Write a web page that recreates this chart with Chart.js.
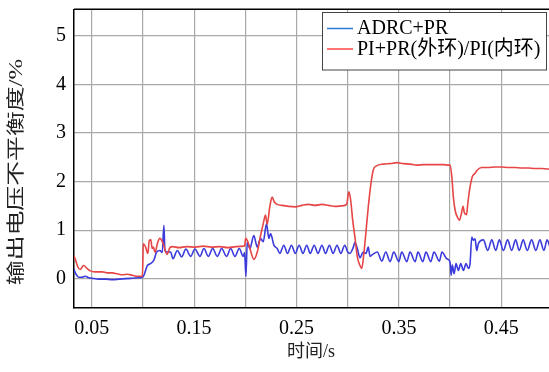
<!DOCTYPE html>
<html>
<head>
<meta charset="utf-8">
<script src="https://cdn.jsdelivr.net/npm/chart.js@4.4.1/dist/chart.umd.min.js"></script>
<style>
  html, body { margin: 0; padding: 0; background: #fff; }
  #wrap { width: 549px; height: 372px; }
</style>
</head>
<body>
<div id="wrap"><canvas id="c" width="549" height="372"></canvas></div>
<script>
// 数据：时间 (s) 与不平衡度 (%)
const timeAdrc = [
  0.0322, 0.0345, 0.0372, 0.0404, 0.0437, 0.0471, 0.0503, 0.0569, 0.0635, 0.0701, 0.0767, 0.0832, 0.0898, 0.0964, 0.0997,
  0.1010, 0.1043, 0.1075, 0.1107, 0.1134, 0.1166, 0.1189, 0.1205, 0.1215, 0.1238, 0.1271, 0.1293, 0.1336, 0.1378, 0.1420, 0.1466, 0.1508, 0.1557, 0.1596, 0.1639, 0.1681, 0.1727, 0.1769, 0.1817, 0.1857, 0.1899, 0.1941, 0.1980, 0.1993,
  0.2006, 0.2019, 0.2045, 0.2083, 0.2117, 0.2149, 0.2175, 0.2207, 0.2230, 0.2247, 0.2279, 0.2312, 0.2337, 0.2376, 0.2412, 0.2451, 0.2488, 0.2526, 0.2563, 0.2600, 0.2634, 0.2673, 0.2710, 0.2748, 0.2784, 0.2821, 0.2857, 0.2896, 0.2933, 0.2971, 0.3000,
  0.3022, 0.3055, 0.3071, 0.3094, 0.3120, 0.3152, 0.3179, 0.3201, 0.3218, 0.3244, 0.3289, 0.3333, 0.3372, 0.3414, 0.3450, 0.3499, 0.3528, 0.3577, 0.3609, 0.3658, 0.3687, 0.3733, 0.3765, 0.3811, 0.3843, 0.3895, 0.3921, 0.3967, 0.4000,
  0.4010, 0.4022, 0.4039, 0.4058, 0.4081, 0.4104, 0.4130, 0.4156, 0.4179, 0.4195, 0.4212, 0.4227, 0.4244, 0.4260, 0.4276, 0.4325, 0.4368, 0.4407, 0.4446, 0.4481, 0.4520, 0.4562, 0.4601, 0.4640, 0.4675, 0.4714, 0.4753, 0.4796, 0.4838, 0.4877, 0.4916, 0.4948, 0.4975
];
const valAdrc = [
  0.21, 0.10, 0.03, 0.03, 0.05, 0.02, 0.01, -0.01, -0.01, -0.02, -0.01, 0.00, 0.01, 0.02, 0.03,
  0.07, 0.27, 0.31, 0.38, 0.55, 0.58, 0.54, 1.10, 0.58, 0.55, 0.55, 0.41, 0.58, 0.45, 0.61, 0.46, 0.61, 0.46, 0.62, 0.46, 0.62, 0.46, 0.62, 0.46, 0.62, 0.46, 0.62, 0.46, 0.54,
  0.05, 0.76, 0.62, 0.89, 0.65, 0.83, 0.76, 1.13, 0.83, 0.93, 0.69, 0.62, 0.52, 0.69, 0.52, 0.69, 0.52, 0.69, 0.52, 0.69, 0.52, 0.69, 0.52, 0.69, 0.52, 0.69, 0.52, 0.69, 0.52, 0.69, 0.55,
  0.52, 0.65, 0.75, 0.62, 0.43, 0.55, 0.52, 0.65, 0.46, 0.50, 0.55, 0.36, 0.55, 0.35, 0.55, 0.35, 0.55, 0.35, 0.55, 0.35, 0.55, 0.35, 0.55, 0.35, 0.55, 0.36, 0.55, 0.41, 0.34,
  0.07, 0.28, 0.10, 0.31, 0.17, 0.31, 0.17, 0.31, 0.21, 0.31, 0.86, 0.79, 0.82, 0.58, 0.72, 0.80, 0.58, 0.80, 0.58, 0.80, 0.58, 0.80, 0.58, 0.80, 0.58, 0.80, 0.58, 0.80, 0.58, 0.80, 0.58, 0.80, 0.65
];

const timePi = [
  0.0322, 0.0338, 0.0365, 0.0387, 0.0421, 0.0454, 0.0486, 0.0536, 0.0602, 0.0651, 0.0701, 0.0750, 0.0799, 0.0849, 0.0898, 0.0948, 0.0995,
  0.1004, 0.1026, 0.1049, 0.1062, 0.1078, 0.1090, 0.1102, 0.1119, 0.1141, 0.1165, 0.1199, 0.1235, 0.1264, 0.1290, 0.1350, 0.1430, 0.1510, 0.1590, 0.1670, 0.1750, 0.1830, 0.1910, 0.1986, 0.1995,
  0.2003, 0.2025, 0.2051, 0.2083, 0.2117, 0.2149, 0.2175, 0.2197, 0.2214, 0.2239, 0.2262, 0.2284, 0.2311, 0.2359, 0.2423, 0.2488, 0.2553, 0.2617, 0.2683, 0.2748, 0.2812, 0.2877, 0.2942, 0.2990,
  0.3006, 0.3013, 0.3029, 0.3049, 0.3071, 0.3094, 0.3120, 0.3137, 0.3152, 0.3169, 0.3201, 0.3227, 0.3250, 0.3277, 0.3349, 0.3415, 0.3480, 0.3545, 0.3609, 0.3675, 0.3740, 0.3805, 0.3870, 0.3935, 0.3984,
  0.4000, 0.4017, 0.4032, 0.4049, 0.4071, 0.4091, 0.4107, 0.4127, 0.4139, 0.4161, 0.4173, 0.4195, 0.4217, 0.4244, 0.4266, 0.4309, 0.4373, 0.4439, 0.4504, 0.4568, 0.4634, 0.4699, 0.4763, 0.4828, 0.4894, 0.4959, 0.4975
];
const valPi = [
  0.48, 0.41, 0.24, 0.19, 0.27, 0.21, 0.16, 0.14, 0.14, 0.12, 0.12, 0.10, 0.08, 0.09, 0.07, 0.05, 0.05,
  0.72, 0.65, 0.52, 0.79, 0.80, 0.62, 0.65, 0.54, 0.72, 0.83, 0.72, 0.50, 0.64, 0.66, 0.64, 0.66, 0.65, 0.67, 0.65, 0.66, 0.64, 0.66, 0.67, 0.69,
  0.83, 0.76, 0.58, 0.40, 0.55, 0.89, 1.13, 1.31, 1.12, 1.48, 1.68, 1.58, 1.53, 1.51, 1.49, 1.48, 1.51, 1.53, 1.51, 1.53, 1.51, 1.49, 1.50, 1.53,
  1.75, 1.79, 1.62, 1.20, 0.85, 0.45, 0.27, 0.21, 0.40, 0.75, 1.48, 1.96, 2.24, 2.32, 2.36, 2.37, 2.39, 2.37, 2.36, 2.34, 2.35, 2.35, 2.35, 2.35, 2.34,
  2.34, 2.10, 1.68, 1.41, 1.27, 1.20, 1.31, 1.49, 1.36, 1.32, 1.55, 1.89, 2.10, 2.17, 2.24, 2.29, 2.29, 2.30, 2.30, 2.29, 2.29, 2.28, 2.28, 2.27, 2.27, 2.26, 2.26
];

const seriesNames = ['ADRC+PR', 'PI+PR(外环)/PI(内环)'];
const xGrid = [0.05, 0.10, 0.15, 0.20, 0.25, 0.30, 0.35, 0.40, 0.45];
const xTickLabels = ['0.05', '', '0.15', '', '0.25', '', '0.35', '', '0.45'];
const yGrid = [0, 1, 2, 3, 4, 5];
const yTickLabels = ['0', '1', '2', '3', '4', '5'];

const serif = "'Liberation Serif', 'Noto Sans CJK SC', serif";

// 边框、坐标轴标题与图例
const frame = {
  id: 'frame',
  afterDatasetsDraw(chart) {
    const { ctx, chartArea: a } = chart;
    ctx.save();
    ctx.strokeStyle = '#000';
    ctx.lineWidth = 1.5;
    ctx.beginPath();
    ctx.moveTo(a.left, a.top);
    ctx.lineTo(a.right, a.top);
    ctx.stroke();

    // 图例
    const bx = 322.5, by = 12.5, bw = 224, bh = 57.5;
    ctx.fillStyle = '#fff';
    ctx.fillRect(bx, by, bw, bh);
    ctx.strokeStyle = '#444';
    ctx.lineWidth = 1;
    ctx.strokeRect(bx, by, bw, bh);
    const legendColors = ['#2a7dd6', '#ff4747'];
    const rows = [28.5, 49];
    ctx.font = '20px ' + serif;
    ctx.textAlign = 'left';
    ctx.textBaseline = 'middle';
    seriesNames.forEach((name, i) => {
      ctx.strokeStyle = legendColors[i];
      ctx.lineWidth = 1.5;
      ctx.beginPath();
      ctx.moveTo(327, rows[i]);
      ctx.lineTo(353, rows[i]);
      ctx.stroke();
      ctx.fillStyle = '#000';
      ctx.fillText(name, 357, rows[i] + 0.5);
    });

    // x 轴标题
    ctx.font = '18px ' + serif;
    ctx.fillStyle = '#222';
    ctx.textAlign = 'center';
    ctx.fillText('时间/s', 311, 352);

    // y 轴标题
    ctx.translate(17, 172);
    ctx.rotate(-Math.PI / 2);
    ctx.scale(1.38, 1);
    ctx.fillText('输出电压不平衡度/%', 0, 0);
    ctx.restore();
  }
};

const ctx = document.getElementById('c').getContext('2d');
new Chart(ctx, {
  type: 'line',
  data: {
    datasets: [
      {
        label: seriesNames[0],
        data: timeAdrc.map((t, i) => ({ x: t, y: valAdrc[i] })),
        borderColor: '#3b3bdc',
        borderWidth: 1.6,
        pointRadius: 0,
        cubicInterpolationMode: 'monotone',
        order: 2
      },
      {
        label: seriesNames[1],
        data: timePi.map((t, i) => ({ x: t, y: valPi[i] })),
        borderColor: '#e64646',
        borderWidth: 1.6,
        pointRadius: 0,
        cubicInterpolationMode: 'monotone',
        order: 1
      }
    ]
  },
  options: {
    responsive: false,
    animation: false,
    devicePixelRatio: 1,
    layout: { padding: { top: 9.3, right: 0, left: 0, bottom: 0 } },
    plugins: { legend: { display: false }, tooltip: { enabled: false } },
    scales: {
      x: {
        type: 'linear',
        min: 0.0327,
        max: 0.4966,
        afterBuildTicks: s => { s.ticks = xGrid.map(v => ({ value: v })); },
        afterFit: s => { s.height = 64.7; s.paddingLeft = 0; s.paddingRight = 0; },
        grid: { color: '#a9a9a9', lineWidth: 1.2, drawTicks: false },
        border: { color: '#000', width: 1.5 },
        ticks: {
          autoSkip: false,
          maxRotation: 0,
          padding: 9,
          color: '#000',
          font: { family: serif, size: 20 },
          callback: (v, i) => xTickLabels[i]
        }
      },
      y: {
        min: -0.59,
        max: 5.55,
        afterBuildTicks: s => { s.ticks = yGrid.map(v => ({ value: v })); },
        afterFit: s => { s.width = 74; s.paddingTop = 0; s.paddingBottom = 0; },
        grid: { color: '#a9a9a9', lineWidth: 1.2, drawTicks: false },
        border: { color: '#000', width: 1.5 },
        ticks: {
          padding: 8,
          color: '#000',
          font: { family: serif, size: 20 },
          callback: (v, i) => yTickLabels[i]
        }
      }
    }
  },
  plugins: [frame]
});
</script>
</body>
</html>
